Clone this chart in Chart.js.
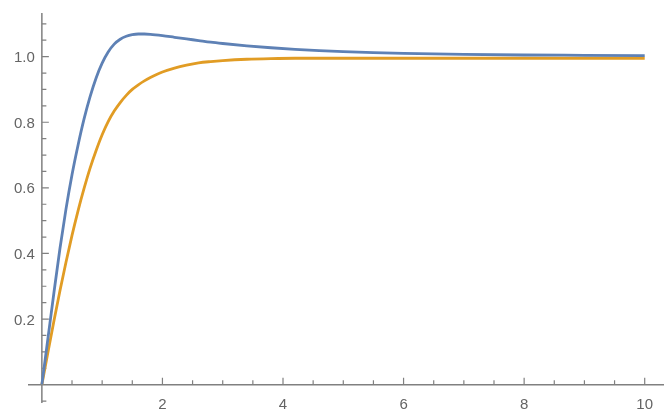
<!DOCTYPE html>
<html>
<head>
<meta charset="utf-8">
<script src="https://cdn.jsdelivr.net/npm/chart.js@4"></script>
<style>
    html, body { margin: 0; padding: 0; background: #fff; }
    #contenedor { width: 664px; height: 415px; }
</style>
</head>
<body>
<div id="contenedor"><canvas id="respuestaChart"></canvas></div>
<script>
// ==========================================
// Respuesta al escalón: dos curvas
// ==========================================
const tiempos = [0, 0.1, 0.2, 0.3, 0.4, 0.5, 0.6, 0.7, 0.8, 0.9, 1.0, 1.1, 1.2, 1.3, 1.4, 1.5, 1.6, 1.7, 1.8,
                 2.0, 2.2, 2.4, 2.6, 2.8, 3.0, 3.4, 3.8, 4.2, 4.6, 5.0, 5.5, 6.0, 7.0, 8.0, 9.0, 10.0];

const serieAzul = [0, 0.14, 0.28, 0.415, 0.535, 0.64, 0.73, 0.81, 0.878, 0.935, 0.98, 1.014, 1.038, 1.053, 1.062, 1.067, 1.069, 1.069, 1.068,
                   1.064, 1.059, 1.054, 1.049, 1.044, 1.040, 1.033, 1.027, 1.022, 1.018, 1.015, 1.012, 1.010, 1.007, 1.005, 1.004, 1.003];

const serieNaranja = [0, 0.098, 0.194, 0.286, 0.373, 0.455, 0.53, 0.598, 0.66, 0.714, 0.762, 0.802, 0.834, 0.86, 0.882, 0.9, 0.914, 0.926, 0.936,
                      0.953, 0.965, 0.974, 0.981, 0.985, 0.988, 0.992, 0.994, 0.995, 0.995, 0.995, 0.995, 0.995, 0.995, 0.995, 0.995, 0.995];

const ticksX = [2, 4, 6, 8, 10];
const etiquetasX = ['2', '4', '6', '8', '10'];
const ticksY = [0.2, 0.4, 0.6, 0.8, 1.0];
const etiquetasY = ['0.2', '0.4', '0.6', '0.8', '1.0'];

const COLOR_AZUL = '#5e81b5';
const COLOR_NARANJA = '#e19c24';
const COLOR_EJE = '#808080';
const COLOR_TEXTO = '#646464';

// Ejes estilo Mathematica: cruzan en el origen, marcas hacia adentro,
// marcas menores cada 0.5 en x y cada 0.05 en y.
const ejesPlugin = {
    id: 'ejesOrigen',
    beforeDatasetsDraw(chart) {
        const { ctx, chartArea, scales: { x, y } } = chart;
        const x0 = x.getPixelForValue(0);
        const y0 = y.getPixelForValue(0);
        ctx.save();
        ctx.strokeStyle = COLOR_EJE;
        ctx.lineWidth = 1.5;
        ctx.beginPath();
        ctx.moveTo(chartArea.left, y0); ctx.lineTo(chartArea.right, y0);
        ctx.moveTo(x0, chartArea.top); ctx.lineTo(x0, chartArea.bottom);
        ctx.stroke();

        ctx.lineWidth = 1.2;
        ctx.beginPath();
        for (let i = 1; i <= 20; i++) {
            let px = x.getPixelForValue(i * 0.5);
            let largo = i % 4 === 0 ? 7 : 4.5;
            ctx.moveTo(px, y0); ctx.lineTo(px, y0 - largo);
        }
        for (let i = -1; i <= 22; i++) {
            if (i === 0) continue;
            let py = y.getPixelForValue(i * 0.05);
            if (py < chartArea.top || py > chartArea.bottom) continue;
            let largo = i % 4 === 0 ? 7 : 4.5;
            ctx.moveTo(x0, py); ctx.lineTo(x0 + largo, py);
        }
        ctx.stroke();

        ctx.fillStyle = COLOR_TEXTO;
        ctx.font = '15px "Liberation Sans", Arial, sans-serif';
        ctx.textBaseline = 'alphabetic';
        ctx.textAlign = 'center';
        ticksX.forEach((v, i) => ctx.fillText(etiquetasX[i], x.getPixelForValue(v), y0 + 24));
        ctx.textAlign = 'right';
        ticksY.forEach((v, i) => ctx.fillText(etiquetasY[i], x0 - 7, y.getPixelForValue(v) + 5.5));
        ctx.restore();
    }
};

const puntos = (serie) => tiempos.map((t, i) => ({ x: t, y: serie[i] }));

new Chart(document.getElementById('respuestaChart').getContext('2d'), {
    type: 'line',
    data: {
        datasets: [
            { data: puntos(serieAzul), borderColor: COLOR_AZUL, borderWidth: 2.8, pointRadius: 0, cubicInterpolationMode: 'monotone', fill: false },
            { data: puntos(serieNaranja), borderColor: COLOR_NARANJA, borderWidth: 2.8, pointRadius: 0, cubicInterpolationMode: 'monotone', fill: false }
        ]
    },
    options: {
        responsive: true,
        maintainAspectRatio: false,
        animation: false,
        devicePixelRatio: 1,
        layout: { padding: { left: 28, right: 0, top: 13, bottom: 12 } },
        scales: {
            x: { type: 'linear', min: -0.23, max: 10.32, display: false },
            y: { type: 'linear', min: -0.056, max: 1.133, display: false }
        },
        plugins: { legend: { display: false }, tooltip: { enabled: false } }
    },
    plugins: [ejesPlugin]
});
</script>
</body>
</html>
